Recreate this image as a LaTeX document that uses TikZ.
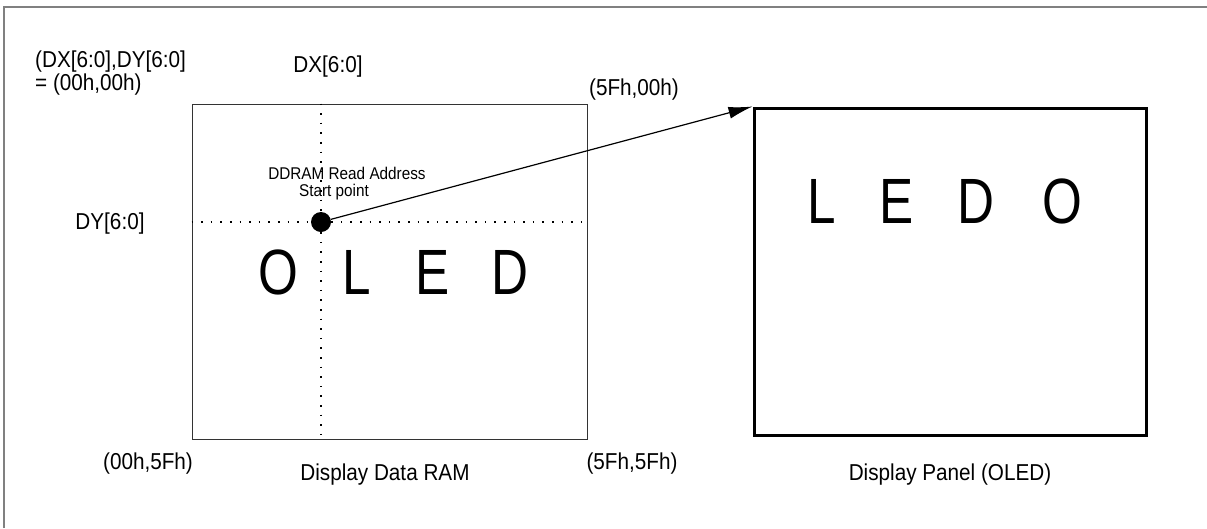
\documentclass[tikz,border=0pt]{standalone}
\usepackage{fontspec}
\setmainfont{Liberation Sans}
\usepackage{tikz}
\usetikzlibrary{arrows.meta}
\tikzset{lbl/.style={font=\fontsize{23}{23}\selectfont, xscale=0.9, inner sep=0pt},
 smalllbl/.style={font=\fontsize{17}{17}\selectfont, xscale=0.9, inner sep=0pt},
 bigchar/.style={font=\fontsize{64}{64}\selectfont, xscale=0.8, inner sep=0pt},
 rambox/.style={draw=black!80, line width=1pt, inner sep=0pt},
 panelbox/.style={draw=black, line width=3pt, inner sep=0pt},
 guide/.style={line width=1.6pt, dash pattern=on 1.6pt off 8pt},
 }

\begin{document}
\begin{tikzpicture}[x=1pt, y=-1pt]
        \useasboundingbox (0,0) rectangle (1207,528);
        \draw [gray, line width=2pt] (4,528) -- (4,7) -- (1207,7);
        \node [rambox, minimum width=395pt, minimum height=335pt] (ddram) at (389.5,271.5) {};
        \node [panelbox, minimum width=392pt, minimum height=327pt] (panel) at (950,271.5) {};
        \node [circle, fill=black, minimum size=20pt, inner sep=0pt] (start) at (321,222) {};
        \draw [guide] (ddram.west |- start) -- (start.west);
        \draw [guide] (start.east) -- (ddram.east |- start);
        \draw [guide] (start |- ddram.north) -- (start.north);
        \draw [guide] (start.south) -- (start |- ddram.south);
        \draw [line width=1.2pt, -{Latex[length=24pt, width=12pt]}] (start) -- (panel.north west);
        \node [lbl, anchor=west, align=left] (origin) at (35,73) {(DX[6:0],DY[6:0]\\= (00h,00h)};
        \node [lbl] (dx) at (328,67) {DX[6:0]};
        \node [lbl] (dy) at (110,224) {DY[6:0]};
        \node [lbl] (topright) at (634,90) {(5Fh,00h)};
        \node [smalllbl] (readaddr) at (347,173) {DDRAM Read Address};
        \node [smalllbl] (startpt) at (334,192) {Start point};
        \foreach \ch/\x in {O/278, L/357, E/433, D/510}
            \node [bigchar] (ram\ch) at (\x,272) {\ch};
        \foreach \ch/\x in {L/822, E/897, D/976, O/1062}
            \node [bigchar] (pnl\ch) at (\x,201) {\ch};
        \node [lbl] (botleft) at (148,464) {(00h,5Fh)};
        \node [lbl] (ramname) at (385,475) {Display Data RAM};
        \node [lbl] (botright) at (632,464) {(5Fh,5Fh)};
        \node [lbl] (panelname) at (950,475) {Display Panel (OLED)};
    \end{tikzpicture}
\end{document}
